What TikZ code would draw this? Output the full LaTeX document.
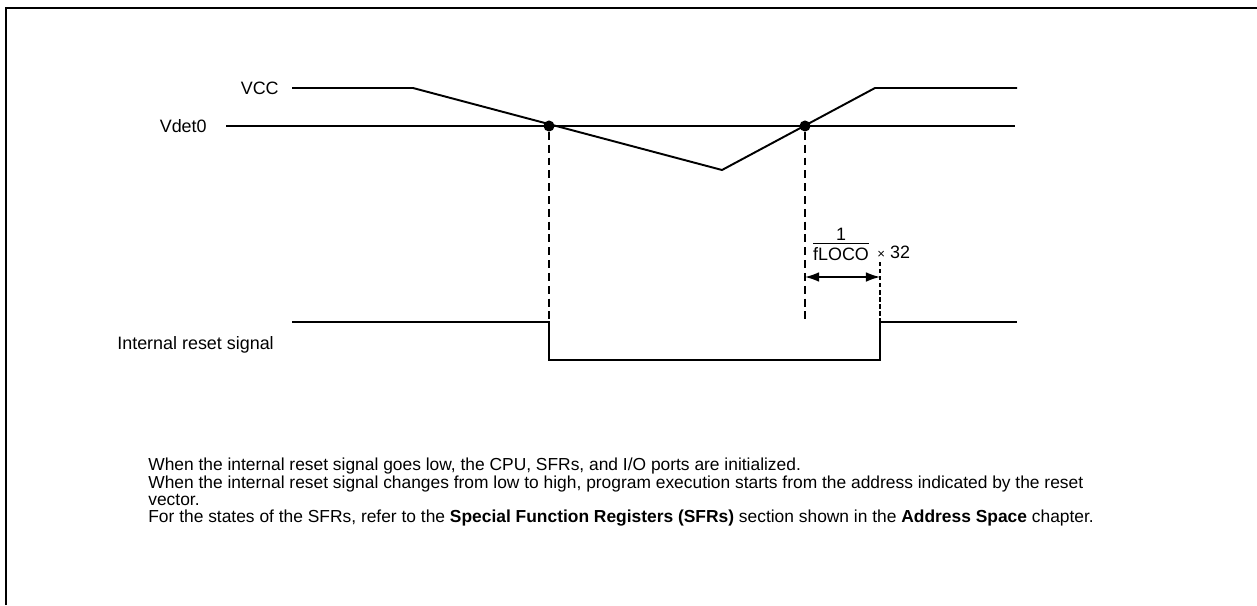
\documentclass[tikz,border=0pt]{standalone}
\usepackage{fontspec}
\setmainfont{Liberation Sans}
\usetikzlibrary{arrows.meta,positioning,calc}

\tikzset{
    lbl/.style={inner sep=0pt, font=\fontsize{10.2}{12}\selectfont},
    wave/.style={line width=1.1pt},
    guide/.style={line width=0.9pt, dash pattern=on 4.5pt off 2.8pt},
    dot/.style={circle, fill, inner sep=0pt, minimum size=6.3pt}
}

\begin{document}
\begin{tikzpicture}[x=0.02cm,y=-0.02cm]
    \useasboundingbox (0,0) rectangle (1257,605);
    % Frame
    \draw[line width=1.7pt] (6,605) -- (6,8) -- (1257,8);

    % Labels
    \node[lbl, anchor=east] (vcc) at (279,88) {VCC};
    \node[lbl, anchor=east] (vdet) at (207,126) {Vdet0};
    \node[lbl, anchor=west] (rst) at (117,345) {Internal reset signal};

    % Vdet0 level
    \coordinate (d0) at (226,126);
    \coordinate (d1) at (1015,126);
    \draw[line width=0.6pt] (d0) -- (d1);

    % VCC
    \coordinate (v0) at (292,88);
    \coordinate (v1) at (413,88);
    \coordinate (vmin) at (722,170);
    \coordinate (v2) at (875,88);
    \coordinate (v3) at (1017,88);
    \draw[wave] (v0) -- (v1) -- (vmin) -- (v2) -- (v3);

    % Crossing points
    \node[dot] (fall) at (549,126) {};
    \node[dot] (rise) at (805,126) {};

    % Internal reset signal
    \coordinate (r0) at (292,322);
    \coordinate (r1) at (549,322);
    \coordinate (r2) at (549,360);
    \coordinate (r3) at (880,360);
    \coordinate (r4) at (880,322);
    \coordinate (r5) at (1017,322);
    \draw[wave] (r0) -- (r1) -- (r2) -- (r3) -- (r4) -- (r5);

    % Guides
    \coordinate (g1) at (805,322);
    \coordinate (g2) at (880,262);
    \draw[guide] (fall) -- (r1);
    \draw[guide] (rise) -- (g1);
    \draw[line width=0.6pt, dash pattern=on 2.5pt off 1.5pt] (g2) -- (r4);

    % Delay
    \coordinate (a0) at (805,277);
    \coordinate (a1) at (880,277);
    \draw[line width=0.8pt, {Latex[length=8pt,width=5.5pt]}-{Latex[length=8pt,width=5.5pt]}] (a0) -- (a1);
    \node[lbl, anchor=south] (frac) at (841,267) {%
        \begin{tabular}{@{}c@{}}1\\[-2pt]\hline\noalign{\vskip1pt}fLOCO\end{tabular}};
    \node[lbl, anchor=west] (times) at (877,252) {{\fontsize{7.5}{7.5}\selectfont×} 32};

    % Notes
    \node[lbl, anchor=north west, align=left, font=\fontsize{9.9}{9.7}\selectfont] (notes) at (148,458) {%
        When the internal reset signal goes low, the CPU, SFRs, and I/O ports are initialized.\\
        When the internal reset signal changes from low to high, program execution starts from the address indicated by the reset\\
        vector.\\
        For the states of the SFRs, refer to the \textbf{Special Function Registers (SFRs)} section shown in the \textbf{Address Space} chapter.};
\end{tikzpicture}
\end{document}
